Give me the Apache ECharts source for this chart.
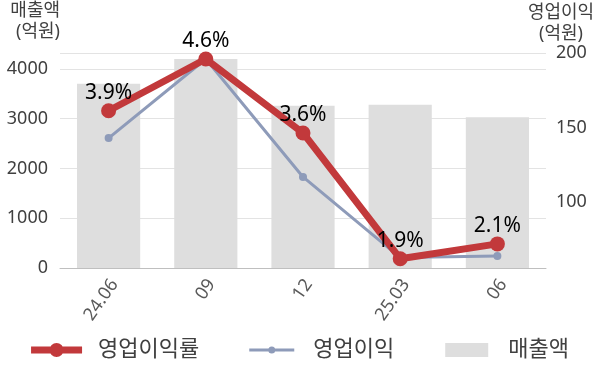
<!DOCTYPE html>
<html>
<head>
<meta charset="utf-8">
<script src="https://cdn.jsdelivr.net/npm/echarts@6/dist/echarts.min.js"></script>
<style>html,body{margin:0;padding:0;background:#fff}#c{width:600px;height:383px}</style>
</head>
<body>
<div id="c"></div>
<script>
const categories = ['24.06', '09', '12', '25.03', '06'];
const revenue = [3700, 4200, 3260, 3280, 3030];          // 매출액 (억원)
const operatingProfit = [143, 196, 117, 63, 64];         // 영업이익 (억원)
const operatingMargin = [3.9, 4.6, 3.6, 1.9, 2.1];       // 영업이익률 (%)
const leftTicks = [0, 1000, 2000, 3000, 4000];
const rightTicks = [100, 150, 200];

const FONT = '"Noto Sans", "Noto Sans CJK KR", sans-serif';
// legend icons (51 x 16 box; tiny corner points fix the bounds)
const BOUNDS = 'M0,0 L0.01,0 L0,0.01 Z M51,16 L50.99,16 L51,15.99 Z ';
const iconMargin = 'path://' + BOUNDS + 'M0,4.5 L51,4.5 L51,11.5 L0,11.5 Z M18.5,8 A7,7 0 1,1 32.5,8 A7,7 0 1,1 18.5,8 Z';
const iconProfit = 'path://' + BOUNDS + 'M3,6.5 L48,6.5 L48,9.5 L3,9.5 Z M22,8 A3.5,3.5 0 1,1 29,8 A3.5,3.5 0 1,1 22,8 Z';
const iconRevenue = 'path://' + BOUNDS + 'M4,1 L47,1 L47,15 L4,15 Z';

const chart = echarts.init(document.getElementById('c'), null, {renderer: 'canvas'});
chart.setOption({
  animation: false,
  textStyle: {fontFamily: FONT},
  grid: {left: 60, right: 54, top: 52, bottom: 115, containLabel: false},
  legend: {
    bottom: 17, left: 'center',
    itemWidth: 51, itemHeight: 16, itemGap: 47,
    textStyle: {fontSize: 22, color: '#404040', fontFamily: FONT, padding: [0, 0, 0, 11]},
    data: [
      {name: '영업이익률', icon: iconMargin},
      {name: '영업이익', icon: iconProfit},
      {name: '매출액', icon: iconRevenue}
    ]
  },
  xAxis: {
    type: 'category', data: categories,
    axisTick: {show: false},
    axisLine: {lineStyle: {color: '#bfbfbf', width: 1}},
    axisLabel: {rotate: 55, fontSize: 18, color: '#595959', margin: 9, fontFamily: FONT,
      formatter: v => '{t|' + v + '}',
      rich: {t: {fontSize: 18, color: '#595959', fontFamily: FONT, padding: [14, 0, 0, 0]}}}
  },
  yAxis: [
    {
      type: 'value', min: 0, max: 4320, interval: 1000,
      name: '매출액\n(억원)', nameLocation: 'end', nameGap: 11,
      nameTextStyle: {align: 'right', verticalAlign: 'bottom', fontSize: 18, lineHeight: 21, color: '#404040', fontFamily: FONT},
      axisLine: {show: false}, axisTick: {show: false},
      axisLabel: {fontSize: 18, color: '#404040', margin: 12, customValues: leftTicks, fontFamily: FONT,
        formatter: v => String(v)},
      splitLine: {lineStyle: {color: '#e3e3e3'}}
    },
    {
      type: 'value', min: 56, max: 200,
      name: '영업이익\n(억원)', nameLocation: 'end', nameGap: 8,
      nameTextStyle: {align: 'center', verticalAlign: 'bottom', fontSize: 18, lineHeight: 21, color: '#404040', padding: [0, 0, 0, 30], fontFamily: FONT},
      axisLine: {show: false}, axisTick: {show: false},
      axisLabel: {fontSize: 18, color: '#404040', margin: 10, customValues: rightTicks, fontFamily: FONT,
        formatter: v => String(v)},
      splitLine: {show: false}
    },
    {
      type: 'value', min: 1.774, max: 4.681, show: false,
      splitLine: {show: false}
    }
  ],
  series: [
    {
      name: '영업이익률', type: 'line', yAxisIndex: 2, data: operatingMargin,
      z: 5,
      symbol: 'circle', symbolSize: 15,
      itemStyle: {color: '#c2393b'},
      lineStyle: {color: '#c2393b', width: 7},
      label: {show: true, position: 'top', distance: 0, fontSize: 21, color: '#000', fontFamily: FONT,
        formatter: p => p.value.toFixed(1) + '%'}
    },
    {
      name: '영업이익', type: 'line', yAxisIndex: 1, data: operatingProfit,
      z: 4,
      symbol: 'circle', symbolSize: 8,
      itemStyle: {color: '#8e9bb9'},
      lineStyle: {color: '#8e9bb9', width: 3}
    },
    {
      name: '매출액', type: 'bar', yAxisIndex: 0, data: revenue,
      z: 2,
      barWidth: '65%',
      itemStyle: {color: '#dedede'}
    }
  ]
});
</script>
</body>
</html>
